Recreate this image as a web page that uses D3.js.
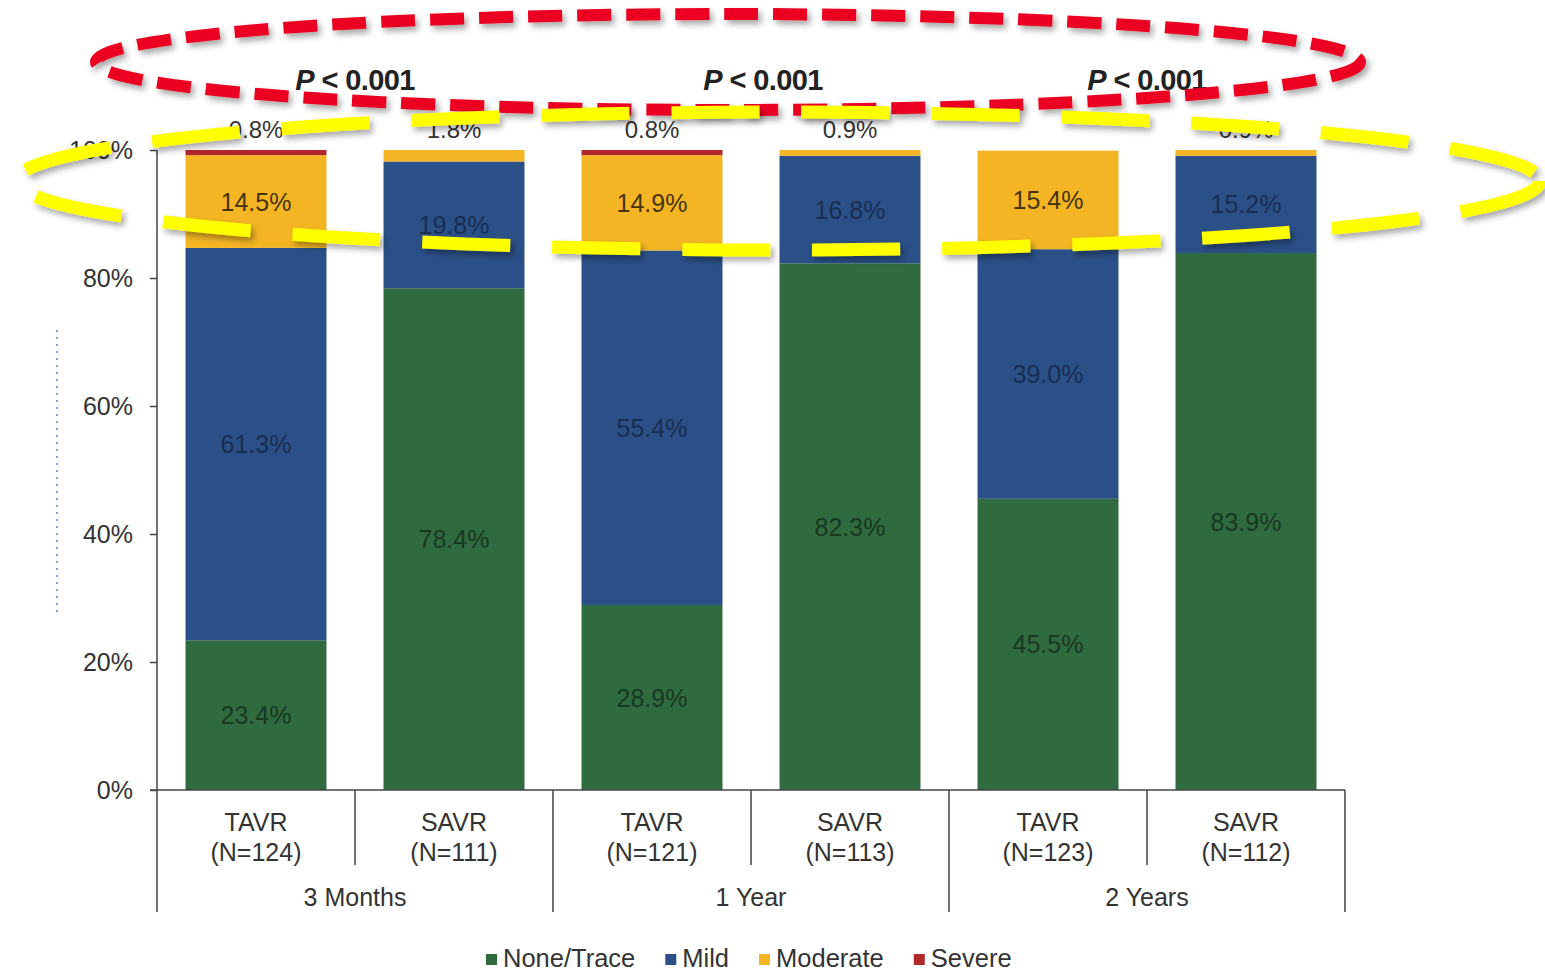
<!DOCTYPE html>
<html>
<head>
<meta charset="utf-8">
<script src="https://cdn.jsdelivr.net/npm/d3@7/dist/d3.min.js"></script>
<style>
  html, body { margin: 0; padding: 0; background: #ffffff; }
  svg { display: block; }
  text { font-family: "Liberation Sans", Arial, Helvetica, sans-serif; }
</style>
</head>
<body>
<svg id="chart" width="1545" height="974"></svg>
<script>
// Aortic regurgitation severity by follow-up visit and treatment arm
const timepoints = ["3 Months", "1 Year", "2 Years"];
const arms = ["TAVR", "SAVR"];
const sampleSizes = [124, 111, 121, 113, 123, 112];
const noneTrace = [23.4, 78.4, 28.9, 82.3, 45.5, 83.9];
const mild      = [61.3, 19.8, 55.4, 16.8, 39.0, 15.2];
const moderate  = [14.5,  1.8, 14.9,  0.9, 15.4,  0.9];
const severe    = [ 0.8,  0.0,  0.8,  0.0,  0.0,  0.0];
const pValues = ["0.001", "0.001", "0.001"];
const yTicks = [0, 20, 40, 60, 80, 100];
const severityNames = ["None/Trace", "Mild", "Moderate", "Severe"];
const severityColors = ["#2f6b3f", "#2b5088", "#f3b523", "#b3282d"];

const svg = d3.select("#chart");

// Build one row per bar from the arrays above
const rows = [];
timepoints.forEach((tp, g) => {
  arms.forEach((arm, a) => {
    const i = g * arms.length + a;
    rows.push({
      key: tp + "|" + arm, timepoint: tp, arm: arm, n: sampleSizes[i],
      "None/Trace": noneTrace[i], "Mild": mild[i], "Moderate": moderate[i], "Severe": severe[i]
    });
  });
});

const x = d3.scaleBand()
  .domain(rows.map(d => d.key))
  .range([157, 1345])
  .paddingInner(0.288)
  .paddingOuter(0.144);

const y = d3.scaleLinear().domain([0, 100]).range([790, 150]);
const color = d3.scaleOrdinal().domain(severityNames).range(severityColors);

const stacked = d3.stack().keys(severityNames)(rows);

// Stacked bars
const layers = svg.append("g").attr("class", "bars")
  .selectAll("g").data(stacked).join("g")
  .attr("fill", s => color(s.key));

layers.selectAll("rect").data(s => s.map(p => ({ p: p, key: s.key })))
  .join("rect")
  .attr("x", d => x(d.p.data.key))
  .attr("width", x.bandwidth())
  .attr("y", d => y(d.p[1]))
  .attr("height", d => Math.max(0, y(d.p[0]) - y(d.p[1])));

// Value labels inside the larger segments
const labelColor = { "None/Trace": "#142a1b", "Mild": "#142443", "Moderate": "#2d2208", "Severe": "#222" };
const inside = [];
stacked.forEach(s => s.forEach(p => {
  const v = p.data[s.key];
  if (v >= 5) inside.push({ key: s.key, bar: p.data.key, v: v, mid: (p[0] + p[1]) / 2 });
}));
svg.append("g").attr("class", "seg-labels")
  .selectAll("text").data(inside).join("text")
  .attr("x", d => x(d.bar) + x.bandwidth() / 2)
  .attr("y", d => y(d.mid))
  .attr("dy", "0.36em")
  .attr("text-anchor", "middle")
  .attr("font-size", 25)
  .attr("fill", d => labelColor[d.key])
  .attr("fill-opacity", d => d.key === "Moderate" ? 0.9 : 0.8)
  .text(d => d.v.toFixed(1) + "%");

// Small top segments are labelled above the bar
const topLabels = rows.map(r => {
  const top = severityNames.slice().reverse().find(k => r[k] > 0);
  return { bar: r.key, v: r[top] };
}).filter(d => d.v < 5);
svg.append("g").attr("class", "top-labels")
  .selectAll("text").data(topLabels).join("text")
  .attr("x", d => x(d.bar) + x.bandwidth() / 2)
  .attr("y", y(100) - 12)
  .attr("text-anchor", "middle")
  .attr("font-size", 24)
  .attr("fill", "#333")
  .text(d => d.v.toFixed(1) + "%");

// Y axis
const yAxis = svg.append("g").attr("class", "y-axis")
  .attr("transform", "translate(157,0)")
  .call(d3.axisLeft(y).tickValues(yTicks).tickFormat(d => d + "%").tickSize(7).tickPadding(17));
yAxis.select(".domain").remove();
yAxis.selectAll(".tick line").attr("stroke", "#444").attr("stroke-width", 1.5);
yAxis.selectAll(".tick text").attr("font-size", 25).attr("fill", "#333")
  .attr("font-family", "Liberation Sans, Arial, sans-serif");

const axisGroup = svg.append("g").attr("class", "x-axis").attr("stroke", "#444").attr("stroke-width", 1.5);
axisGroup.append("line").attr("x1", 157).attr("x2", 157).attr("y1", y(100)).attr("y2", 912);
axisGroup.append("line").attr("x1", 150).attr("x2", x.range()[1]).attr("y1", y(0)).attr("y2", y(0));

// Category dividers: short between arms, long between time points
const step = x.step();
const edge0 = x(rows[0].key) - step * x.paddingInner() / 2;
d3.range(1, rows.length + 1).forEach(i => {
  const xe = edge0 + i * step;
  const groupEdge = i % arms.length === 0;
  axisGroup.append("line")
    .attr("x1", xe).attr("x2", xe)
    .attr("y1", y(0)).attr("y2", groupEdge ? 912 : 865);
});

// Arm and sample size labels
const catLabels = svg.append("g").attr("class", "cat-labels")
  .attr("font-size", 25).attr("fill", "#333").attr("text-anchor", "middle");
rows.forEach(r => {
  const cx = x(r.key) + x.bandwidth() / 2;
  catLabels.append("text").attr("x", cx).attr("y", 831).text(r.arm);
  catLabels.append("text").attr("x", cx).attr("y", 861).text("(N=" + r.n + ")");
});

// Time point labels and P values
timepoints.forEach((tp, g) => {
  const gx = edge0 + (g * arms.length + arms.length / 2) * step;
  catLabels.append("text").attr("x", gx).attr("y", 906).text(tp);
  const pt = svg.append("text")
    .attr("x", gx + (g === 1 ? 12 : 0)).attr("y", 90)
    .attr("text-anchor", "middle")
    .attr("font-size", 29).attr("font-weight", "bold").attr("fill", "#222")
    .attr("letter-spacing", -0.6);
  pt.append("tspan").attr("font-style", "italic").text("P");
  pt.append("tspan").text(" < " + pValues[g]);
});

// Legend
const legend = svg.append("g").attr("class", "legend");
let lx = 486;
severityNames.forEach((name, i) => {
  legend.append("rect").attr("x", lx).attr("y", 954).attr("width", 11).attr("height", 11)
    .attr("fill", color(name));
  const t = legend.append("text").attr("x", lx + 17).attr("y", 967)
    .attr("font-size", 25.5).attr("fill", "#333").text(name);
  lx += 17 + t.node().getComputedTextLength() + 30;
});

// Faint dotted rule at the left margin
svg.append("line").attr("x1", 57).attr("x2", 57).attr("y1", 330).attr("y2", 612)
  .attr("stroke", "#5b8fcf").attr("stroke-width", 2).attr("stroke-dasharray", "2 5")
  .attr("opacity", 0.8);

// Highlight ellipses with soft drop shadow
const defs = svg.append("defs");
const f = defs.append("filter").attr("id", "shadow").attr("x", "-10%").attr("y", "-50%")
  .attr("width", "120%").attr("height", "200%");
f.append("feDropShadow").attr("dx", 3).attr("dy", 4).attr("stdDeviation", 3)
  .attr("flood-color", "#000").attr("flood-opacity", 0.35);

svg.append("ellipse")
  .attr("cx", 728).attr("cy", 62).attr("rx", 632).attr("ry", 48)
  .attr("fill", "none").attr("stroke", "#ec0020").attr("stroke-width", 12)
  .attr("stroke-dasharray", "34 15").attr("filter", "url(#shadow)");

svg.append("ellipse")
  .attr("cx", 778).attr("cy", 181).attr("rx", 762).attr("ry", 69)
  .attr("fill", "none").attr("stroke", "#ffff00").attr("stroke-width", 13)
  .attr("stroke-dasharray", "88 42").attr("filter", "url(#shadow)");
</script>
</body>
</html>
